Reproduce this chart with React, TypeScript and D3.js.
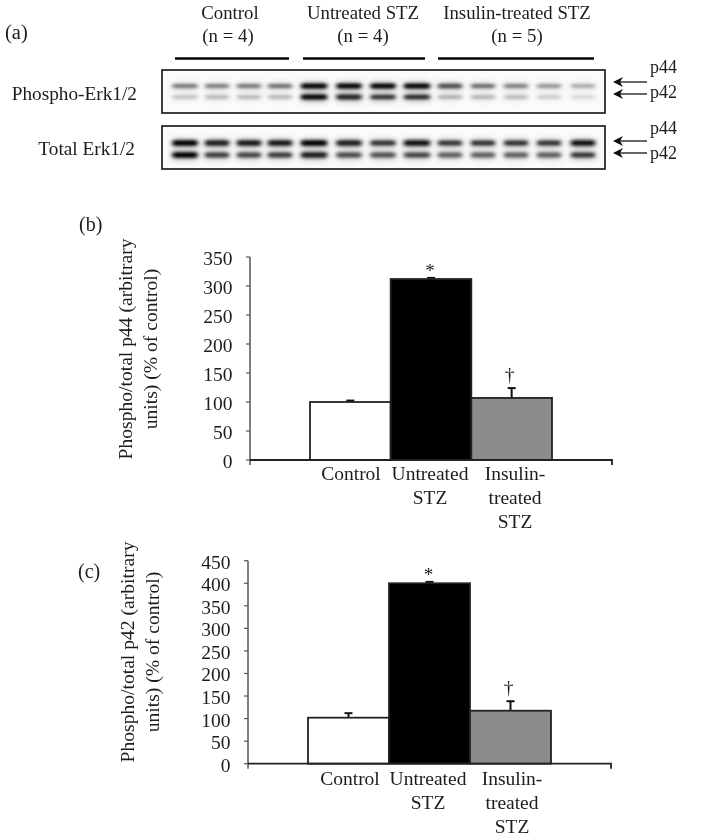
import React from "react";
import * as d3 from "d3";

const groupLabels = ["Control", "Untreated STZ", "Insulin-treated STZ"];
const groupNs = ["(n = 4)", "(n = 4)", "(n = 5)"];
const laneCenters = [185, 217, 249, 280, 314, 349, 383, 417, 450, 483, 516, 549, 583];
const phosphoP44 = [0.55, 0.52, 0.55, 0.58, 1, 1, 0.98, 1, 0.72, 0.6, 0.52, 0.42, 0.36];
const phosphoP42 = [0.26, 0.3, 0.3, 0.3, 1, 0.88, 0.82, 0.85, 0.34, 0.32, 0.3, 0.22, 0.16];
const totalP44 = [1, 0.9, 0.92, 0.92, 1, 0.9, 0.82, 0.95, 0.8, 0.82, 0.82, 0.8, 0.95];
const totalP42 = [1, 0.78, 0.74, 0.78, 0.9, 0.72, 0.7, 0.74, 0.64, 0.64, 0.64, 0.64, 0.8];
const bandWidths = [25, 24, 24, 24, 26, 25, 25, 26, 24, 24, 24, 24, 24];

const categoryLines = [["Control"], ["Untreated", "STZ"], ["Insulin-", "treated", "STZ"]];
const fills = ["#ffffff", "#000000", "#8c8c8c"];

const p44Values = [100, 312, 107];
const p44Errors = [2.5, 2, 17];
const p44Ticks = [0, 50, 100, 150, 200, 250, 300, 350];

const p42Values = [102, 400, 117.5];
const p42Errors = [10, 3, 21];
const p42Ticks = [0, 50, 100, 150, 200, 250, 300, 350, 400, 450];

const SERIF = "'Liberation Serif', serif";
const INK = "#1c1c1c";

function Blot({ top, height, p44, p42, y44, y42, bandH }: { top: number; height: number; p44: number[]; p42: number[]; y44: number; y42: number; bandH: number }) {
  const gray = d3.scaleLinear<string>().domain([0, 1]).range(["#ffffff", "#000000"]);
  const bands = (extra: number) =>
    laneCenters.map((c, i) => (
      <g key={i}>
        <rect x={c - bandWidths[i] / 2} y={y44 - (bandH + p44[i] * 2) / 2} width={bandWidths[i]} height={bandH + p44[i] * 2 + extra} rx={2} fill={gray(p44[i])} />
        <rect x={c - bandWidths[i] / 2} y={y42 - (bandH + p42[i] * 2) / 2} width={bandWidths[i]} height={bandH + p42[i] * 2 + extra} rx={2} fill={gray(p42[i])} />
      </g>
    ));
  return (
    <g>
      <rect x={162} y={top} width={443} height={height} fill="#fbfbfb" stroke="#111" strokeWidth={1.6} />
      <g filter="url(#haze)" opacity={0.4}>{bands(1)}</g>
      <g filter="url(#band)">{bands(0)}</g>
    </g>
  );
}

function Arrow({ y }: { y: number }) {
  return (
    <g>
      <line x1={618} x2={647} y1={y} y2={y} stroke="#111" strokeWidth={1.3} />
      <path d={`M623 ${y - 5} L620 ${y} L623 ${y + 5} L613 ${y} Z`} fill="#111" />
    </g>
  );
}

function BarPanel({ axisX, y0, yTop, xRight, barEdges, values, errors, ticks, domainMax, yLabelX, yLabelY, panel, panelX, panelY, labels, starDy, catDy, catX }: any) {
  const y = d3.scaleLinear().domain([0, domainMax]).range([y0, yTop]);
  const x = d3.scaleBand<number>().domain(d3.range(3)).range([barEdges[0], barEdges[1]]).padding(0);
  return (
    <g>
      {values.map((v: number, i: number) => {
        const cx = x(i)! + x.bandwidth() / 2;
        return (
          <g key={i}>
            <line x1={cx} x2={cx} y1={y(v)} y2={y(v + errors[i])} stroke="#111" strokeWidth={2} />
            <line x1={cx - 4} x2={cx + 4} y1={y(v + errors[i])} y2={y(v + errors[i])} stroke="#111" strokeWidth={2} />
            <rect x={x(i)!} y={y(v)} width={x.bandwidth()} height={y0 - y(v)} fill={fills[i]} stroke="#222" strokeWidth={1.8} />
          </g>
        );
      })}
      <line x1={axisX} x2={axisX} y1={yTop} y2={y0 + 5} stroke="#555" strokeWidth={1.5} />
      <path d={`M${axisX} ${y0} H${xRight} V${y0 + 5}`} fill="none" stroke="#222" strokeWidth={1.8} />
      {ticks.map((t: number) => (
        <g key={t}>
          <line x1={axisX - 4} x2={axisX} y1={y(t)} y2={y(t)} stroke="#555" strokeWidth={1.2} />
          <text x={axisX - 17.5} y={y(t) + 8} textAnchor="end" fontSize={19.5} fill={INK}>{t}</text>
        </g>
      ))}
      <text transform={`translate(${yLabelX},${yLabelY}) rotate(-90)`} textAnchor="middle" fontSize={19.6} fill={INK}>
        <tspan x={0} dy={0}>{labels[0]}</tspan>
        <tspan x={0} dy={25}>{labels[1]}</tspan>
      </text>
      <text x={panelX} y={panelY} fontSize={20} fill={INK}>{panel}</text>
      {categoryLines.map((lines, i) => (
        <text key={i} y={y0 + catDy} textAnchor="middle" fontSize={19.5} fill={INK}>
          {lines.map((l, j) => <tspan key={j} x={catX[i]} dy={j === 0 ? 0 : 24}>{l}</tspan>)}
        </text>
      ))}
      <text x={x(1)! + x.bandwidth() / 2 - 1} y={y(values[1] + errors[1]) + starDy} textAnchor="middle" fontSize={19} fill={INK}>*</text>
      <text x={x(2)! + x.bandwidth() / 2 - 2} y={y(values[2] + errors[2]) - 7} textAnchor="middle" fontSize={19.5} fill={INK}>†</text>
    </g>
  );
}

export default function App() {
  return (
    <svg width={710} height={838} style={{ position: "absolute", left: 0, top: 0, fontFamily: SERIF }}>
      <defs>
        <filter id="band" x="-5%" y="-20%" width="110%" height="140%"><feGaussianBlur stdDeviation="2 1.35" /></filter>
        <filter id="haze" x="-5%" y="-40%" width="110%" height="180%"><feGaussianBlur stdDeviation="3.5" /></filter>
        <filter id="soft"><feGaussianBlur stdDeviation="0.4" /></filter>
      </defs>
      <g filter="url(#soft)">
        <text x={5} y={39} fontSize={20.5} fill={INK}>(a)</text>
        {groupLabels.map((g, i) => (
          <g key={g}>
            <text x={[230, 363, 517][i]} y={19} textAnchor="middle" fontSize={18.8} fill={INK}>{g}</text>
            <text x={[228, 363, 517][i]} y={42} textAnchor="middle" fontSize={18.8} fill={INK}>{groupNs[i]}</text>
          </g>
        ))}
        {[[175, 289], [303, 425], [438, 594]].map(([a, b], i) => (
          <line key={i} x1={a} x2={b} y1={58.5} y2={58.5} stroke="#000" strokeWidth={2.6} />
        ))}
        <text x={137} y={100} textAnchor="end" fontSize={19.3} fill={INK}>Phospho-Erk1/2</text>
        <text x={135} y={155} textAnchor="end" fontSize={19.3} fill={INK}>Total Erk1/2</text>
        <Blot top={70} height={43} p44={phosphoP44} p42={phosphoP42} y44={86} y42={97} bandH={3} />
        <Blot top={126} height={43} p44={totalP44} p42={totalP42} y44={143} y42={155} bandH={3.5} />
        <Arrow y={82} />
        <Arrow y={94} />
        <Arrow y={141} />
        <Arrow y={153} />
        {[["p44", 73], ["p42", 98], ["p44", 134], ["p42", 159]].map(([t, yy], i) => (
          <text key={i} x={650} y={yy as number} fontSize={18} fill={INK}>{t}</text>
        ))}
        <BarPanel axisX={250} y0={460} yTop={257} xRight={612} barEdges={[310, 552]} values={p44Values} errors={p44Errors} ticks={p44Ticks} domainMax={350}
          yLabelX={132} yLabelY={349} panel="(b)" panelX={79} panelY={231} labels={["Phospho/total p44 (arbitrary", "units) (% of control)"]} starDy={-1} catDy={20} catX={[351, 430, 515]} />
        <BarPanel axisX={248} y0={763.7} yTop={560.7} xRight={611} barEdges={[308, 551]} values={p42Values} errors={p42Errors} ticks={p42Ticks} domainMax={450}
          yLabelX={134} yLabelY={652} panel="(c)" panelX={78} panelY={578} labels={["Phospho/total p42 (arbitrary", "units) (% of control)"]} starDy={-1} catDy={21} catX={[350, 428, 512]} />
      </g>
    </svg>
  );
}
